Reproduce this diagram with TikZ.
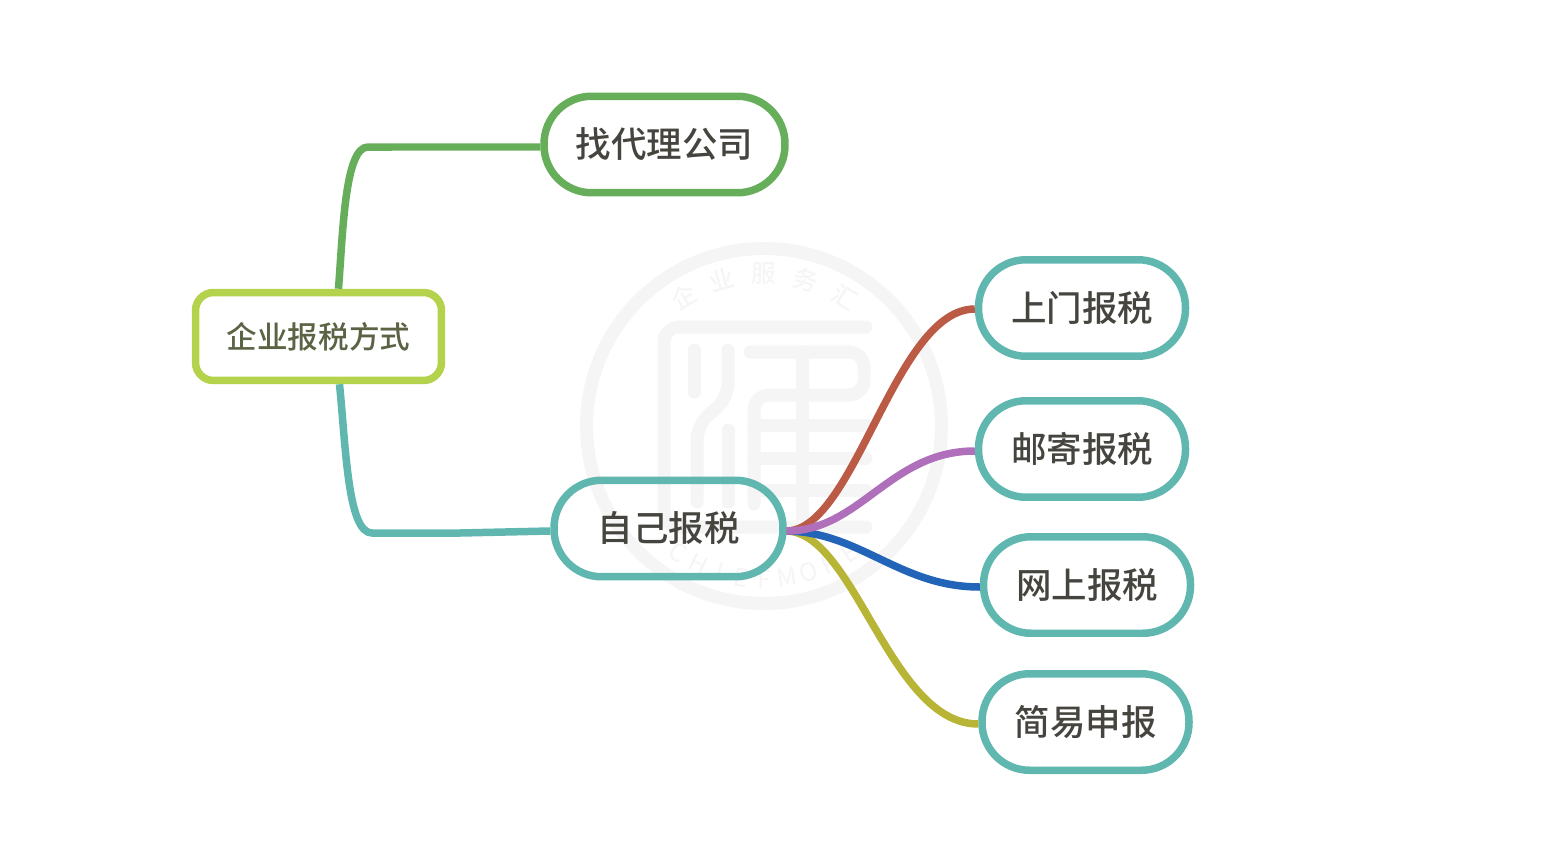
\documentclass[tikz,border=0pt]{standalone}
\usepackage{fontspec}
\setmainfont{Noto Sans CJK SC}
\newfontfamily\topicfont{Noto Sans CJK SC Medium}
\usepackage{xcolor}
\usetikzlibrary{positioning}
\definecolor{wmgray}{HTML}{F5F5F5}
\definecolor{txtdark}{HTML}{45443F}
\definecolor{txtroot}{HTML}{5A6344}
\definecolor{limeline}{HTML}{B5D24C}
\definecolor{greenline}{HTML}{67AE5B}
\definecolor{tealline}{HTML}{5FB7B0}
\definecolor{redline}{HTML}{BB5A45}
\definecolor{purpleline}{HTML}{B06FBB}
\definecolor{blueline}{HTML}{2265B8}
\definecolor{oliveline}{HTML}{B8B536}
\tikzset{
    topicbox/.style={draw=tealline, line width=0.15cm, rounded corners=0.95cm, minimum width=4.14cm, minimum height=1.93cm, inner sep=0pt, text=txtdark, font=\topicfont\fontsize{20.2}{24}\selectfont},
    rootbox/.style={draw=limeline, line width=0.15cm, rounded corners=0.36cm, minimum width=4.92cm, minimum height=1.76cm, inner sep=0pt, text=txtroot, font=\topicfont\fontsize{17.4}{20}\selectfont},
    branch/.style={line width=0.15cm},
    wmstroke/.style={draw=wmgray, line width=0.26cm, line cap=round, line join=round, rounded corners=0.3cm},
    wmtext/.style={text=wmgray, inner sep=0pt}
}
\begin{document}
\begin{tikzpicture}[x=0.02cm, y=-0.02cm]
\useasboundingbox (0,0) rectangle (1550,848);

% watermark seal
\draw[draw=wmgray, line width=0.26cm] (764,426) circle[radius=3.55cm];
\draw[wmstroke] (866,327) -- (664,327) -- (664,527) -- (866,527);
\draw[wmstroke] (694,350) -- (694,392);
\draw[wmstroke] (728,350) -- (728,398) -- (697,425) -- (697,502);
\draw[wmstroke] (728,430) -- (728,502);
\draw[wmstroke] (750,352) -- (864,352) -- (864,395) -- (754,395) -- (754,504);
\draw[wmstroke] (802,352) -- (802,520);
\draw[wmstroke] (754,425) -- (866,425);
\draw[wmstroke] (754,458) -- (866,458);
\draw[wmstroke] (754,490) -- (866,490);
\foreach \ch [count=\i from 0] in {企,业,服,务,汇} {
    \pgfmathsetmacro{\ang}{-32+16*\i}
    \node[wmtext, rotate=-\ang, font=\topicfont\fontsize{14}{16}\selectfont] (wm\i) at ({764+152*sin(\ang)},{426-152*cos(\ang)}) {\ch};
}
\foreach \ch [count=\i from 0] in {C,H,I,E,F,M,O,R,E} {
    \pgfmathsetmacro{\ang}{-34+8.5*\i}
    \node[wmtext, rotate=\ang, font=\fontsize{14}{16}\selectfont] (wb\i) at ({764+153*sin(\ang)},{426+153*cos(\ang)}) {\ch};
}

% nodes
\node[rootbox] (root) at (318.5,336.5) {企业报税方式};
\node[topicbox, draw=greenline, minimum width=4.82cm] (agent) at (664.5,144.5) {找代理公司};
\node[topicbox, minimum width=4.58cm] (self) at (668.5,528.5) {自己报税};
\node[topicbox] (visit) at (1082,308) {上门报税};
\node[topicbox] (mail) at (1082,449) {邮寄报税};
\node[topicbox] (online) at (1087,585) {网上报税};
\node[topicbox] (simple) at (1085.5,722) {简易申报};

% main branches
\draw[branch, greenline] ([xshift=0.4cm]root.north) .. controls (343,230) and (345,147) .. (368,147) -- ([yshift=-0.05cm]agent.west);
\draw[branch, tealline] ([xshift=0.42cm]root.south) .. controls (346,450) and (348,533) .. (372,533) -- (460,533) -- ([yshift=-0.05cm]self.west);

% sub branches
\draw[branch, oliveline] ([yshift=-0.05cm]self.east) .. controls (855,533) and (890,724) .. ([yshift=-0.04cm]simple.west);
\draw[branch, blueline] ([yshift=-0.05cm]self.east) .. controls (860,532) and (900,587) .. ([yshift=-0.04cm]online.west);
\draw[branch, redline] ([yshift=-0.05cm]self.east) .. controls (855,530) and (895,309) .. ([yshift=-0.02cm]visit.west);
\draw[branch, purpleline] ([yshift=-0.05cm]self.east) .. controls (860,531) and (890,451) .. ([yshift=-0.04cm]mail.west);
\end{tikzpicture}
\end{document}
